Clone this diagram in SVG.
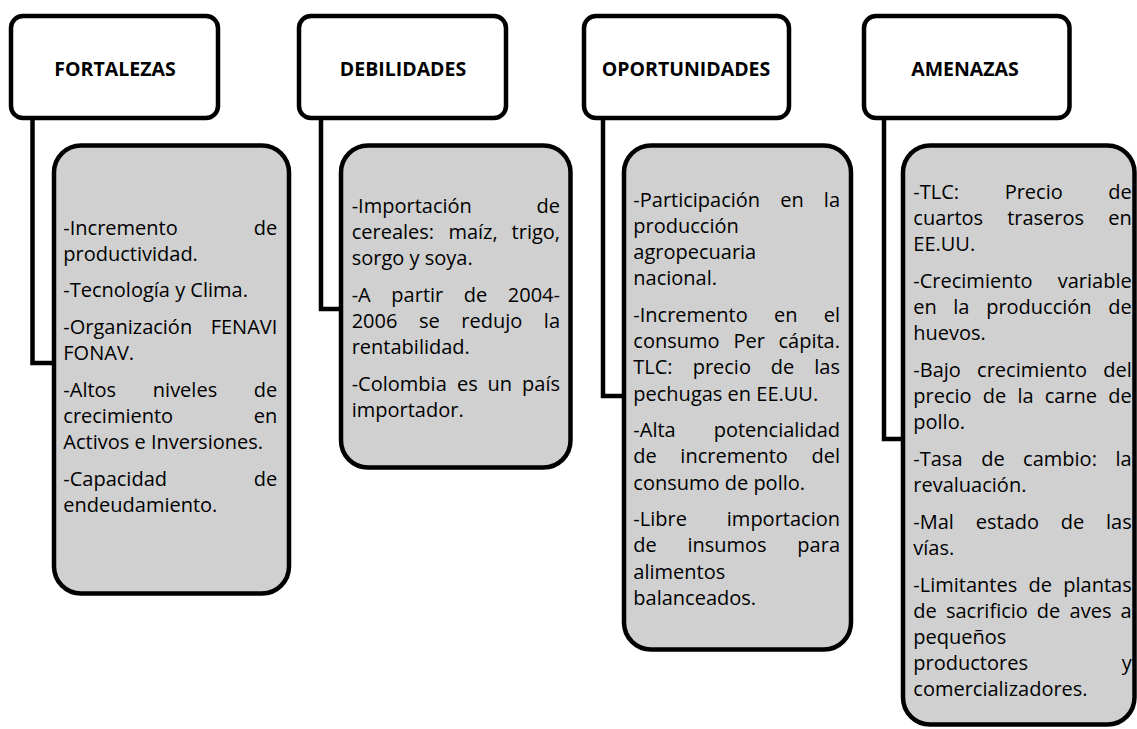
<svg xmlns="http://www.w3.org/2000/svg" width="1137" height="729" viewBox="0 0 1137 729">
<style>
.hb{fill:#fff;stroke:#000;stroke-width:4.5}
.gb{fill:#d0d0d0;stroke:#000;stroke-width:4.5}
.c{fill:none;stroke:#000;stroke-width:4.5;stroke-linejoin:miter}
.h{font-family:"Open Sans","Liberation Sans",sans-serif;font-weight:bold;font-size:19.5px;text-anchor:middle;fill:#000}
text.t,text.m,text.e{font-family:"Open Sans","Liberation Sans",sans-serif;font-size:20px;fill:#000}
text.m{text-anchor:middle}
text.e{text-anchor:end}
</style>
<rect width="1137" height="729" fill="#fff"/>
<g id="connectors">
<path class="c" d="M32.5 118 V363 H54"/>
<path class="c" d="M321 118 V309 H341"/>
<path class="c" d="M603 118 V396 H624"/>
<path class="c" d="M884 118 V439 H903"/>
</g>
<g id="fortalezas">
<rect class="hb" x="11" y="16" width="207" height="102" rx="12"/>
<text class="h" x="115" y="76">FORTALEZAS</text>
</g>
<g id="debilidades">
<rect class="hb" x="299" y="16" width="207" height="102" rx="12"/>
<text class="h" x="403" y="76">DEBILIDADES</text>
</g>
<g id="oportunidades">
<rect class="hb" x="584" y="16" width="205" height="102" rx="12"/>
<text class="h" x="686" y="76">OPORTUNIDADES</text>
</g>
<g id="amenazas">
<rect class="hb" x="864" y="16" width="205.5" height="102" rx="12"/>
<text class="h" x="965" y="76">AMENAZAS</text>
</g>
<g id="fortalezas-detalle">
<rect class="gb" x="54" y="145.5" width="235" height="448" rx="27"/>
<text class="t" x="63.3" y="234.5">-Incremento</text><text class="e" x="277.3" y="234.5">de</text>
<text class="t" x="63.3" y="260.7">productividad.</text>
<text class="t" x="63.3" y="297.3">-Tecnología y Clima.</text>
<text class="t" x="63.3" y="333.9">-Organización</text><text class="e" x="277.3" y="333.9">FENAVI</text>
<text class="t" x="63.3" y="360.1">FONAV.</text>
<text class="t" x="63.3" y="396.7">-Altos</text><text class="m" x="185" y="396.7">niveles</text><text class="e" x="277.3" y="396.7">de</text>
<text class="t" x="63.3" y="422.9">crecimiento</text><text class="e" x="277.3" y="422.9">en</text>
<text class="t" x="63.3" y="449.1">Activos e Inversiones.</text>
<text class="t" x="63.3" y="485.7">-Capacidad</text><text class="e" x="277.3" y="485.7">de</text>
<text class="t" x="63.3" y="511.9">endeudamiento.</text>
</g>
<g id="debilidades-detalle">
<rect class="gb" x="341" y="145.5" width="229.5" height="322" rx="27"/>
<text class="t" x="351.7" y="212.7">-Importación</text><text class="e" x="560" y="212.7">de</text>
<text class="t" x="351.7" y="238.9">cereales:</text><text class="m" x="473" y="238.9">maíz,</text><text class="e" x="560" y="238.9">trigo,</text>
<text class="t" x="351.7" y="265.1">sorgo y soya.</text>
<text class="t" x="351.7" y="301.7">-A</text><text class="m" x="417.3" y="301.7">partir</text><text class="m" x="475.5" y="301.7">de</text><text class="e" x="560" y="301.7">2004-</text>
<text class="t" x="351.7" y="327.9">2006</text><text class="m" x="429.4" y="327.9">se</text><text class="m" x="491.8" y="327.9">redujo</text><text class="e" x="560" y="327.9">la</text>
<text class="t" x="351.7" y="354.1">rentabilidad.</text>
<text class="t" x="351.7" y="390.7">-Colombia</text><text class="m" x="467.3" y="390.7">es</text><text class="m" x="499.8" y="390.7">un</text><text class="e" x="560" y="390.7">país</text>
<text class="t" x="351.7" y="416.9">importador.</text>
</g>
<g id="oportunidades-detalle">
<rect class="gb" x="624" y="145.5" width="227" height="504" rx="27"/>
<text class="t" x="633.3" y="206.7">-Participación</text><text class="m" x="792" y="206.7">en</text><text class="e" x="840" y="206.7">la</text>
<text class="t" x="633.3" y="232.9">producción</text>
<text class="t" x="633.3" y="259.1">agropecuaria</text>
<text class="t" x="633.3" y="285.3">nacional.</text>
<text class="t" x="633.3" y="321.9">-Incremento</text><text class="m" x="785.7" y="321.9">en</text><text class="e" x="840" y="321.9">el</text>
<text class="t" x="633.3" y="348.1">consumo</text><text class="m" x="749.1" y="348.1">Per</text><text class="e" x="840" y="348.1">cápita.</text>
<text class="t" x="633.3" y="374.3">TLC:</text><text class="m" x="721.8" y="374.3">precio</text><text class="m" x="782.6" y="374.3">de</text><text class="e" x="840" y="374.3">las</text>
<text class="t" x="633.3" y="400.5">pechugas en EE.UU.</text>
<text class="t" x="633.3" y="437.1">-Alta</text><text class="e" x="840" y="437.1">potencialidad</text>
<text class="t" x="633.3" y="463.3">de</text><text class="m" x="734.1" y="463.3">incremento</text><text class="e" x="840" y="463.3">del</text>
<text class="t" x="633.3" y="489.5">consumo de pollo.</text>
<text class="t" x="633.3" y="526.1">-Libre</text><text class="e" x="840" y="526.1">importacion</text>
<text class="t" x="633.3" y="552.3">de</text><text class="m" x="727" y="552.3">insumos</text><text class="e" x="840" y="552.3">para</text>
<text class="t" x="633.3" y="578.5">alimentos</text>
<text class="t" x="633.3" y="604.7">balanceados.</text>
</g>
<g id="amenazas-detalle">
<rect class="gb" x="903" y="145.5" width="231.5" height="579" rx="27"/>
<text class="t" x="913.3" y="199">-TLC:</text><text class="m" x="1033.7" y="199">Precio</text><text class="e" x="1131.7" y="199">de</text>
<text class="t" x="913.3" y="225.2">cuartos</text><text class="m" x="1045.6" y="225.2">traseros</text><text class="e" x="1131.7" y="225.2">en</text>
<text class="t" x="913.3" y="251.4">EE.UU.</text>
<text class="t" x="913.3" y="288">-Crecimiento</text><text class="e" x="1131.7" y="288">variable</text>
<text class="t" x="913.3" y="314.2">en</text><text class="m" x="961.4" y="314.2">la</text><text class="m" x="1038.9" y="314.2">producción</text><text class="e" x="1131.7" y="314.2">de</text>
<text class="t" x="913.3" y="340.4">huevos.</text>
<text class="t" x="913.3" y="377">-Bajo</text><text class="m" x="1032" y="377">crecimiento</text><text class="e" x="1131.7" y="377">del</text>
<text class="t" x="913.3" y="403.2">precio</text><text class="m" x="994.5" y="403.2">de</text><text class="m" x="1025.5" y="403.2">la</text><text class="m" x="1070.9" y="403.2">carne</text><text class="e" x="1131.7" y="403.2">de</text>
<text class="t" x="913.3" y="429.4">pollo.</text>
<text class="t" x="913.3" y="466">-Tasa</text><text class="m" x="992.9" y="466">de</text><text class="m" x="1060" y="466">cambio:</text><text class="e" x="1131.7" y="466">la</text>
<text class="t" x="913.3" y="492.2">revaluación.</text>
<text class="t" x="913.3" y="528.8">-Mal</text><text class="m" x="1007.5" y="528.8">estado</text><text class="m" x="1072.6" y="528.8">de</text><text class="e" x="1131.7" y="528.8">las</text>
<text class="t" x="913.3" y="555">vías.</text>
<text class="t" x="913.3" y="591.6">-Limitantes</text><text class="m" x="1040.2" y="591.6">de</text><text class="e" x="1131.7" y="591.6">plantas</text>
<text class="t" x="913.3" y="617.8">de</text><text class="m" x="986.9" y="617.8">sacrificio</text><text class="m" x="1048.6" y="617.8">de</text><text class="m" x="1090.5" y="617.8">aves</text><text class="e" x="1131.7" y="617.8">a</text>
<text class="t" x="913.3" y="644">pequeños</text>
<text class="t" x="913.3" y="670.2">productores</text><text class="e" x="1131.7" y="670.2">y</text>
<text class="t" x="913.3" y="696.4">comercializadores.</text>
</g>
</svg>
